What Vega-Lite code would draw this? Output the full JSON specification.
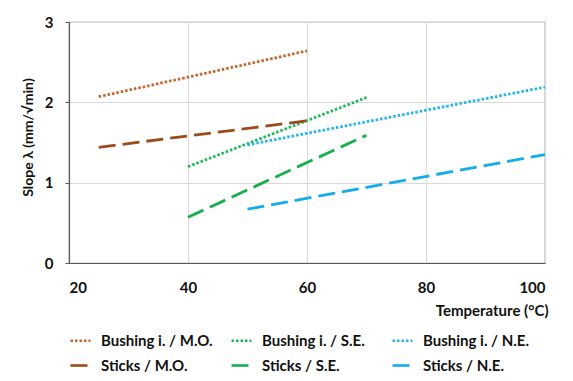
{
  "$schema": "https://vega.github.io/schema/vega-lite/v6.json",
  "autosize": {"type": "none"},
  "width": 476,
  "height": 241,
  "padding": {"left": 69, "top": 22, "right": 28, "bottom": 118},
  "background": "white",
  "config": {
    "font": "Lato",
    "view": {"stroke": "#7f7f7f", "strokeWidth": 1.2},
    "axis": {"labelFont": "Lato", "labelFontWeight": "bold", "labelFontSize": 15, "labelColor": "#111111", "titleFont": "Lato", "titleFontWeight": "bold", "titleFontSize": 15, "titleColor": "#111111", "gridColor": "#d9d9d9", "gridWidth": 1, "domainColor": "#595959", "domainWidth": 1.2, "tickColor": "#595959"},
    "legend": {"labelFont": "Lato", "labelFontWeight": "bold", "labelFontSize": 15, "labelColor": "#111111"}
  },
  "data": {
    "values": [
      {"series": "Bushing i. / M.O.", "temperature": 25, "slope": 2.07},
      {"series": "Bushing i. / M.O.", "temperature": 60, "slope": 2.64},
      {"series": "Bushing i. / S.E.", "temperature": 40, "slope": 1.2},
      {"series": "Bushing i. / S.E.", "temperature": 70, "slope": 2.06},
      {"series": "Bushing i. / N.E.", "temperature": 50, "slope": 1.47},
      {"series": "Bushing i. / N.E.", "temperature": 100, "slope": 2.19},
      {"series": "Sticks / M.O.", "temperature": 25, "slope": 1.44},
      {"series": "Sticks / M.O.", "temperature": 60, "slope": 1.77},
      {"series": "Sticks / S.E.", "temperature": 40, "slope": 0.57},
      {"series": "Sticks / S.E.", "temperature": 70, "slope": 1.59},
      {"series": "Sticks / N.E.", "temperature": 50, "slope": 0.67},
      {"series": "Sticks / N.E.", "temperature": 100, "slope": 1.35}
    ]
  },
  "mark": {"type": "line", "strokeWidth": 2.8},
  "encoding": {
    "x": {
      "field": "temperature", "type": "quantitative",
      "scale": {"domain": [20, 100], "nice": false, "zero": false},
      "axis": {"values": [20, 40, 60, 80, 100], "tickSize": 0, "labelPadding": 17, "title": "Temperature (°C)", "titleX": 479, "titleY": 47, "titleAlign": "right", "titleBaseline": "middle", "domain": true}
    },
    "y": {
      "field": "slope", "type": "quantitative",
      "scale": {"domain": [0, 3], "nice": false},
      "axis": {"values": [0, 1, 2, 3], "tickSize": 4, "labelPadding": 12, "title": "Slope λ (mm/√min)", "titleFontSize": 14, "titleX": -41, "titleY": 115, "titleAngle": 270, "titleAlign": "center", "titleBaseline": "middle"}
    },
    "color": {
      "field": "series", "type": "nominal",
      "scale": {
        "domain": ["Bushing i. / M.O.", "Sticks / M.O.", "Bushing i. / S.E.", "Sticks / S.E.", "Bushing i. / N.E.", "Sticks / N.E."],
        "range": ["#C4662B", "#9C4A1A", "#1DB954", "#18B04E", "#21B5EE", "#12ADEA"]
      },
      "legend": {"title": null, "orient": "none", "legendX": 0, "legendY": 307, "columns": 3, "gridAlign": "all", "columnPadding": 13, "rowPadding": 5, "symbolType": "stroke", "symbolSize": 400, "symbolStrokeWidth": 2.6, "labelOffset": 9}
    },
    "strokeDash": {
      "field": "series", "type": "nominal",
      "scale": {
        "domain": ["Bushing i. / M.O.", "Sticks / M.O.", "Bushing i. / S.E.", "Sticks / S.E.", "Bushing i. / N.E.", "Sticks / N.E."],
        "range": [[2.5, 2], [17, 7], [2.5, 2], [17, 7], [2.5, 2], [17, 7]]
      },
      "legend": {"title": null, "orient": "none", "legendX": 0, "legendY": 307, "columns": 3, "gridAlign": "all", "columnPadding": 13, "rowPadding": 5, "symbolType": "stroke", "symbolSize": 400, "symbolStrokeWidth": 2.6, "labelOffset": 9}
    }
  }
}
